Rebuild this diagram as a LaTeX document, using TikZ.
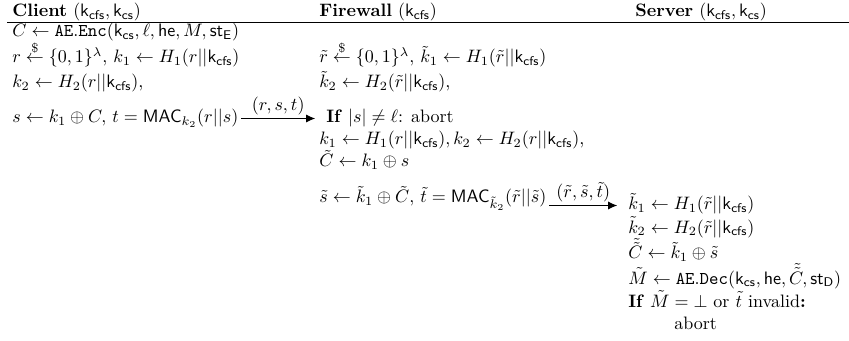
\documentclass[tikz,border=0pt]{standalone}
\usepackage{amsmath}
\usepackage{amssymb}
\usepackage{tikz}
\usetikzlibrary{arrows.meta}
\newcommand{\kcfs}{\mathsf{k}_{\mathsf{cfs}}}
\newcommand{\kcs}{\mathsf{k}_{\mathsf{cs}}}
\newcommand{\rndget}{\overset{\$}{\leftarrow}}

\begin{document}
\begin{tikzpicture}[x=0.5556pt, y=-0.5556pt, line/.style={anchor=base west,inner sep=0pt}, msg/.style={-{Latex[length=5pt,width=4.5pt]},line width=0.6pt}, lbl/.style={above=1.5pt,inner sep=0pt}, headrule/.style={line width=0.6pt}]
\useasboundingbox (0,0) rectangle (849,341);
% parties
\node[line] (hcl) at (12,17) {\textbf{Client} $(\kcfs,\kcs)$};
\node[line] (hfw) at (319,17) {\textbf{Firewall} $(\kcfs)$};
\node[line] (hsv) at (635,17) {\textbf{Server} $(\kcfs,\kcs)$};
\coordinate (rl) at (7,22.5);
\coordinate (rr) at (849,22.5);
\draw[headrule] (rl) -- (rr);
% client
\node[line] (c1) at (12,37) {$C \leftarrow \mathtt{AE.Enc}(\kcs,\ell,\mathsf{he},M,\mathsf{st}_{\mathsf{E}})$};
\node[line] (c2) at (12,63) {$r \rndget \{0,1\}^{\lambda},\, k_1 \leftarrow H_1(r||\kcfs)$};
\node[line] (c3) at (12,88) {$k_2 \leftarrow H_2(r||\kcfs)$,};
\node[line] (c4) at (12,123) {$s \leftarrow k_1 \oplus C,\, t = \mathsf{MAC}_{k_2}(r||s)$};
% firewall
\node[line] (f1) at (319,63) {$\tilde{r} \rndget \{0,1\}^{\lambda},\, \tilde{k}_1 \leftarrow H_1(\tilde{r}||\kcfs)$};
\node[line] (f2) at (319,88) {$\tilde{k}_2 \leftarrow H_2(\tilde{r}||\kcfs)$,};
\node[line] (f3) at (326,123) {\textbf{If} $|s| \neq \ell$: abort};
\node[line] (f4) at (319,145) {$k_1 \leftarrow H_1(r||\kcfs), k_2 \leftarrow H_2(r||\kcfs)$,};
\node[line] (f5) at (319,167) {$\tilde{C} \leftarrow k_1 \oplus s$};
\node[line] (f6) at (319,203) {$\tilde{s} \leftarrow \tilde{k}_1 \oplus \tilde{C},\, \tilde{t} = \mathsf{MAC}_{\tilde{k}_2}(\tilde{r}||\tilde{s})$};
% server
\node[line] (s1) at (628,210) {$\tilde{k}_1 \leftarrow H_1(\tilde{r}||\kcfs)$};
\node[line] (s2) at (628,233) {$\tilde{k}_2 \leftarrow H_2(\tilde{r}||\kcfs)$};
\node[line] (s3) at (628,259) {$\tilde{\tilde{C}} \leftarrow \tilde{k}_1 \oplus \tilde{s}$};
\node[line] (s4) at (628,284) {$\tilde{M} \leftarrow \mathtt{AE.Dec}(\kcs,\mathsf{he},\tilde{\tilde{C}},\mathsf{st}_{\mathsf{D}})$};
\node[line] (s5) at (628,307) {\textbf{If} $\tilde{M} = \bot$ or $\tilde{t}$ invalid\textbf{:}};
\node[line] (s6) at (674,329) {abort};
% messages
\coordinate (m1) at ([yshift=2.5pt]f3.base west);
\coordinate (m2) at ([yshift=2.5pt]s1.base west);
\draw[msg] ([xshift=1.5pt]c4.east |- m1) -- ([xshift=-6pt]m1) node[lbl,midway] {$(r,s,t)$};
\draw[msg] ([xshift=1.5pt]f6.east |- m2) -- ([xshift=-6pt]m2) node[lbl,midway] {$(\tilde{r},\tilde{s},\tilde{t})$};
\end{tikzpicture}
\end{document}
